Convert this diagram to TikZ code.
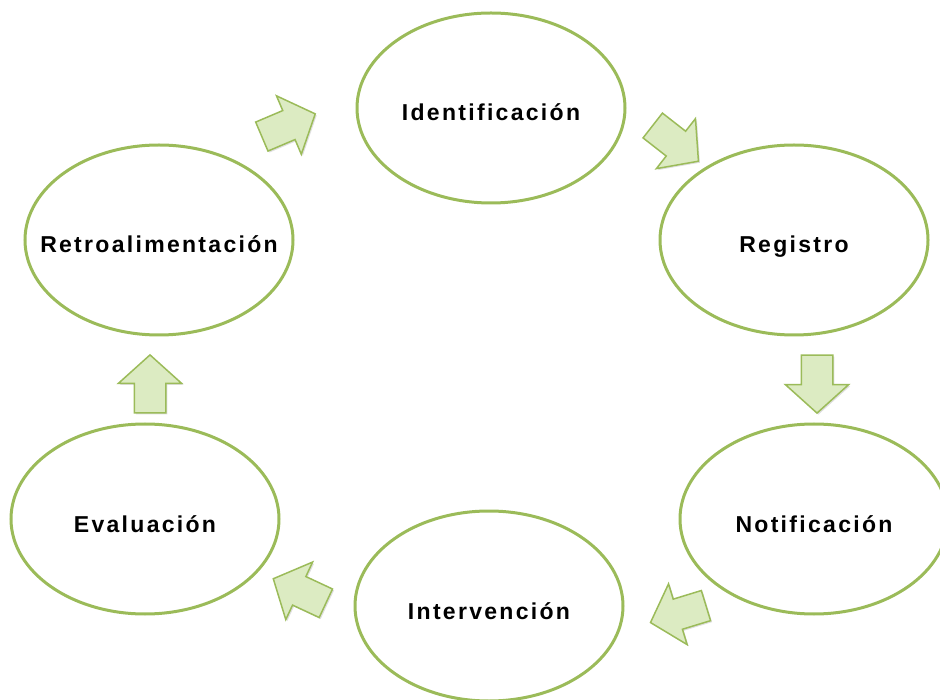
\documentclass[tikz,border=0pt]{standalone}
\usepackage{fontspec}
\setmainfont{Liberation Sans}
\usetikzlibrary{shapes.geometric,shapes.arrows,shadows}
\definecolor{gruen}{HTML}{9BBB59}
\definecolor{hellgruen}{HTML}{DCEBC2}

\begin{document}
\begin{tikzpicture}[x=1pt, y=-1pt,
    phase/.style={draw=gruen, line width=3pt, shape=ellipse, minimum width=268pt, minimum height=190pt,
        inner xsep=-60pt, inner ysep=0pt, text height=26pt, text depth=0pt,
        font=\fontsize{23}{28}\selectfont\bfseries\addfontfeature{LetterSpace=10}},
    pfeil/.style={single arrow, draw=gruen, fill=hellgruen, line width=1.5pt, minimum height=58pt, minimum width=62pt,
        single arrow head extend=16pt, single arrow tip angle=96, inner xsep=0pt, inner ysep=15pt,
        drop shadow={shadow xshift=1.5pt, shadow yshift=-1.5pt, opacity=.25}}
]
\useasboundingbox (0,0) rectangle (940,700);

% --- Phasen (Ellipsen) ---
\node[phase] (ident)  at (491,108) {Identificación};
\node[phase] (regis)  at (794,240) {Registro};
\node[phase] (notif)  at (814,519) {Notificación};
\node[phase] (interv) at (489,606) {Intervención};
\node[phase] (eval)   at (145,519) {Evaluación};
\node[phase] (retro)  at (159,240) {Retroalimentación};

% --- Blockpfeile zwischen den Phasen ---
\node[pfeil, rotate=23]   (p1) at (282,128) {};
\node[pfeil, rotate=-38]  (p2) at (670,139) {};
\node[pfeil, rotate=-90]  (p3) at (817,377) {};
\node[pfeil, rotate=-163] (p4) at (685,612) {};
\node[pfeil, rotate=155]  (p5) at (306,594) {};
\node[pfeil, rotate=90]   (p6) at (150,391) {};

\end{tikzpicture}
\end{document}
